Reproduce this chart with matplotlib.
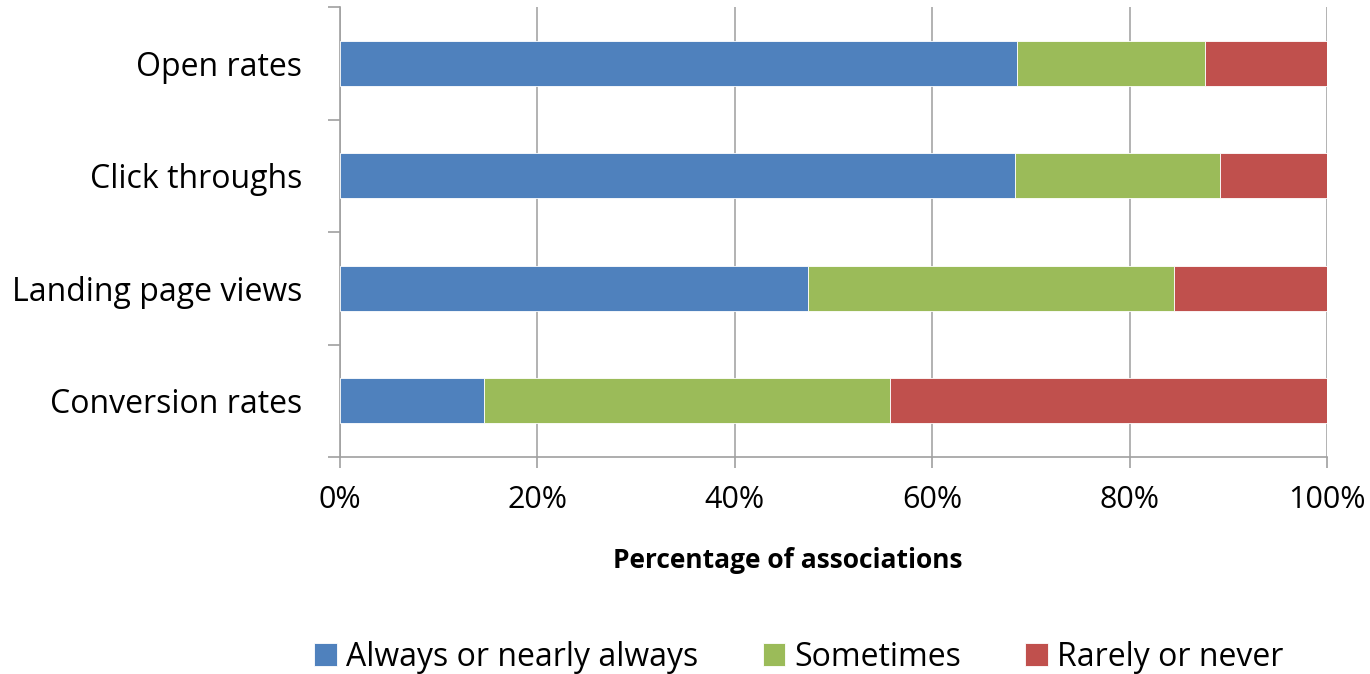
import matplotlib.pyplot as plt
import numpy as np

categories = ["Open rates", "Click throughs", "Landing page views", "Conversion rates"]
always = [68.6, 68.4, 47.4, 14.6]
sometimes = [19.0, 20.8, 37.1, 41.1]
rarely = [12.4, 10.8, 15.5, 44.3]
series_names = ["Always or nearly always", "Sometimes", "Rarely or never"]
colors = ["#4F81BD", "#9BBB59", "#C0504D"]
x_ticks = [0, 20, 40, 60, 80, 100]

plt.rcParams['font.family'] = ['Open Sans', 'DejaVu Sans']

fig = plt.figure(figsize=(13.7, 6.74), dpi=100)
ax = fig.add_axes([340 / 1370, 1 - 457 / 674, 987 / 1370, 450 / 674])

y = np.arange(len(categories))[::-1]
left = np.zeros(len(categories))
handles = []
for vals, name, c in zip([always, sometimes, rarely], series_names, colors):
    b = ax.barh(y, vals, left=left, height=0.4, color=c, label=name,
                edgecolor="white", linewidth=0.6, zorder=3)
    handles.append(b)
    left = left + np.array(vals)

ax.set_xlim(0, 100)
ax.set_ylim(-0.5, len(categories) - 0.5)
ax.set_xticks(x_ticks)
ax.set_xticklabels([f"{t}%" for t in x_ticks], fontsize=22)
ax.set_yticks(y)
ax.set_yticklabels(categories, fontsize=23)
ax.set_yticks(np.arange(len(categories) + 1) - 0.5, minor=True)
ax.tick_params(axis='y', which='major', length=0, pad=27)
ax.tick_params(axis='y', which='minor', length=9, color="#A0A0A0", width=1.2)
ax.tick_params(axis='x', length=8, color="#A0A0A0", width=1.2, pad=12)

ax.grid(axis='x', color="#A6A6A6", linewidth=1.2, zorder=0)
for s in ['top', 'right']:
    ax.spines[s].set_visible(False)
for s in ['left', 'bottom']:
    ax.spines[s].set_color("#A0A0A0")
    ax.spines[s].set_linewidth(1.2)

fig.text(788 / 1370, 1 - 561 / 674, "Percentage of associations", ha='center', va='center',
         fontsize=19, fontweight='bold')

fig.legend(handles=handles, loc='center', bbox_to_anchor=(799 / 1370, 1 - 657 / 674), ncol=3,
           frameon=False, fontsize=23, handlelength=0.7, handleheight=0.7, columnspacing=2.0,
           handletextpad=0.3)

fig.savefig("out.png", dpi=100)
